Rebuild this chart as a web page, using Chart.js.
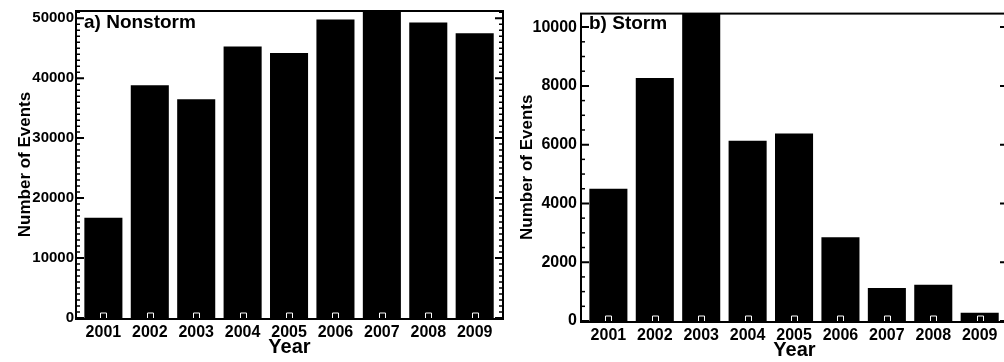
<!DOCTYPE html>
<html>
<head>
<meta charset="utf-8">
<script src="https://cdn.jsdelivr.net/npm/chart.js@4"></script>
<style>
  html, body { margin: 0; padding: 0; background: #fff; overflow: hidden; width: 1004px; height: 362px; }
  .panel { position: absolute; top: 0; width: 510px; height: 362px; }
  #left { left: 0; }
  #right { left: 510px; }
</style>
</head>
<body>
<div class="panel" id="left"><canvas id="chartNonstorm" width="510" height="362"></canvas></div>
<div class="panel" id="right"><canvas id="chartStorm" width="510" height="362"></canvas></div>
<script>
"use strict";

var years = ["2001", "2002", "2003", "2004", "2005", "2006", "2007", "2008", "2009"];
var nonstorm = [16700, 38800, 36500, 45300, 44200, 49800, 52000, 49300, 47500];
var storm = [4500, 8270, 10600, 6130, 6380, 2850, 1120, 1230, 280];
var panelLabels = ["a) Nonstorm", "b) Storm"];

var FONT = "'Liberation Sans', Arial, Helvetica, sans-serif";
Chart.defaults.font.family = FONT;
Chart.defaults.color = "#000";

// frame, inward ticks and panel label
var framePlugin = {
  id: "frame",
  afterDatasetsDraw: function (chart, args, o) {
    var ctx = chart.ctx, a = chart.chartArea, ys = chart.scales.y, xs = chart.scales.x;
    ctx.save();
    // small white bumps at the foot of each bar
    ctx.strokeStyle = "#fff";
    ctx.lineWidth = 1;
    xs.ticks.forEach(function (t) {
      var px = Math.round(xs.getPixelForValue(t.value)) + 0.5;
      ctx.beginPath();
      ctx.moveTo(px - 3, a.bottom);
      ctx.lineTo(px - 3, a.bottom - 5);
      ctx.lineTo(px + 3, a.bottom - 5);
      ctx.lineTo(px + 3, a.bottom);
      ctx.stroke();
    });
    ctx.strokeStyle = "#000";
    ctx.lineWidth = 2;
    ctx.strokeRect(a.left, a.top, a.width, a.height + 1);
    // major ticks
    ys.ticks.forEach(function (t) {
      var py = ys.getPixelForValue(t.value);
      ctx.beginPath();
      ctx.moveTo(a.left, py); ctx.lineTo(a.left + 8, py);
      ctx.moveTo(a.right, py); ctx.lineTo(a.right - 8, py);
      ctx.stroke();
    });
    // minor ticks
    ctx.lineWidth = 1.5;
    for (var v = 0; v <= ys.max; v += o.minor) {
      if (v % o.major === 0) continue;
      var py = ys.getPixelForValue(v);
      ctx.beginPath();
      ctx.moveTo(a.left, py); ctx.lineTo(a.left + 4, py);
      if (o.minorRight) { ctx.moveTo(a.right, py); ctx.lineTo(a.right - 4, py); }
      ctx.stroke();
    }
    ctx.fillStyle = "#000";
    ctx.font = "bold 19px " + FONT;
    ctx.textAlign = "left";
    ctx.textBaseline = "alphabetic";
    ctx.fillText(o.label, a.left + 8, o.labelY);
    ctx.restore();
  }
};

function makeChart(id, values, cfg) {
  return new Chart(document.getElementById(id), {
    type: "bar",
    data: {
      datasets: [{
        data: years.map(function (y, i) { return { x: +y, y: values[i] }; }),
        backgroundColor: "#000",
        borderWidth: 0,
        barPercentage: 0.82,
        categoryPercentage: 1
      }]
    },
    plugins: [framePlugin],
    options: {
      responsive: false,
      animation: false,
      layout: { padding: { top: cfg.top, right: cfg.right, left: 0, bottom: 0 } },
      plugins: {
        legend: { display: false },
        tooltip: { enabled: false },
        frame: { label: cfg.label, labelY: cfg.labelY, major: cfg.major, minor: cfg.minor, minorRight: cfg.minorRight }
      },
      scales: {
        x: {
          type: "linear", offset: false,
          min: 2000.41, max: 2009.61,
          grid: { display: false, drawTicks: false }, border: { display: false },
          ticks: {
            stepSize: 1, includeBounds: false, padding: cfg.xPad, autoSkip: false, maxRotation: 0,
            font: { size: 16, weight: "bold" },
            callback: function (v) { return String(v); }
          },
          title: { display: true, text: "Year", font: { size: 20, weight: "bold" }, padding: { top: 0, bottom: cfg.yearPad } },
          afterFit: function (s) { s.height = cfg.xHeight; }
        },
        y: {
          min: 0, max: cfg.max,
          grid: { display: false, drawTicks: false }, border: { display: false },
          ticks: {
            padding: cfg.yPad,
            font: { size: cfg.yFont, weight: "bold" },
            callback: function (v) { return String(v); }
          },
          afterBuildTicks: function (s) {
            var t = [];
            for (var v = 0; v <= s.max; v += cfg.major) t.push({ value: v });
            s.ticks = t;
          },
          title: { display: true, text: "Number of Events", font: { size: 17, weight: "bold" }, padding: { top: cfg.titlePad, bottom: 0 } },
          afterFit: function (s) { s.width = cfg.yWidth; }
        }
      }
    }
  });
}

makeChart("chartNonstorm", nonstorm, {
  label: panelLabels[0], labelY: 27.5, top: 6, right: 7, max: 51200,
  major: 10000, minor: 1000, minorRight: true, yFont: 15, yPad: 2,
  yWidth: 76, xHeight: 44, xPad: 5, yearPad: 3, titlePad: 15.5
});

makeChart("chartStorm", storm, {
  label: panelLabels[1], labelY: 28.5, top: 9.5, right: 12, max: 10460,
  major: 2000, minor: 500, minorRight: false, yFont: 16, yPad: 4,
  yWidth: 71, xHeight: 41, xPad: 5, yearPad: 0, titlePad: 7
});
</script>
</body>
</html>
